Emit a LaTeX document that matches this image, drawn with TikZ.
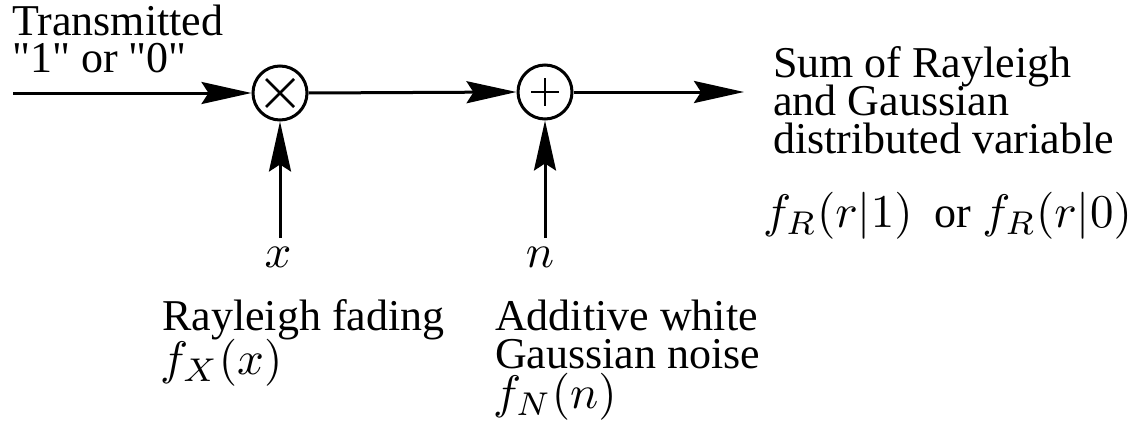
\documentclass[tikz,border=0pt]{standalone}
\usepackage[no-math]{fontspec}
\setmainfont{Liberation Serif}
\font\plainq="Liberation Serif" at 44pt
\newcommand{\sq}{{\plainq\char34}}
\newcommand{\bigmath}[1]{\scalebox{4.7}{\fontsize{10}{12}\selectfont$#1$}}
\usetikzlibrary{arrows.meta}
\begin{document}
\begin{tikzpicture}[x=1pt,y=-1pt,
  txt/.style={anchor=base west,inner sep=0pt,font=\fontsize{44}{38}\selectfont},
  junc/.style={circle,draw,line width=3pt,minimum size=54pt,inner sep=0pt},
  conn/.style={line width=3pt,-{Stealth[length=50pt,width=22pt,inset=7pt]}}]
\useasboundingbox (0,0) rectangle (1139,423);
% junctions
\node[junc] (mul) at (280,93) {};
\node[junc] (add) at (545,92) {};
\draw[line width=2.8pt] ([shift={(-14,-14)}]mul.center) -- ([shift={(14,14)}]mul.center)
  ([shift={(-14,14)}]mul.center) -- ([shift={(14,-14)}]mul.center);
\draw[line width=2.8pt] ([shift={(-14,0)}]add.center) -- ([shift={(14,0)}]add.center)
  ([shift={(0,-14)}]add.center) -- ([shift={(0,14)}]add.center);
% free ends
\coordinate (in) at (13,93);
\coordinate (out) at (744,92);
\coordinate (xs) at (280,238);
\coordinate (ns) at (545,238);
% connectors
\draw[conn] (in) -- (mul.west);
\draw[conn] (mul.east) -- (add.west);
\draw[conn] (add.east) -- (out);
\draw[conn] (xs) -- (mul.south);
\draw[conn] (ns) -- (add.south);
% labels
\node[txt] (t1) at (12,35) {Transmitted};
\node[txt] (t2) at (12,72) {\sq1\sq{} or \sq0\sq};
\node[txt,anchor=base] (xl) at (278,267) {\bigmath{x}};
\node[txt,anchor=base] (nl) at (540,267) {\bigmath{n}};
\node[txt] (r1) at (162,330) {Rayleigh fading};
\node[txt] (r2) at (160,374) {\bigmath{f_X(x)}};
\node[txt] (a1) at (495,330) {Additive white};
\node[txt] (a2) at (495,368) {Gaussian noise};
\node[txt] (a3) at (493,408) {\bigmath{f_N(n)}};
\node[txt] (s1) at (773,77) {Sum of Rayleigh};
\node[txt] (s2) at (773,115) {and Gaussian};
\node[txt] (s3) at (773,153) {distributed variable};
\node[txt] (s4) at (763,227) {\bigmath{f_R(r|1)}\ \ or \bigmath{f_R(r|0)}};
\end{tikzpicture}
\end{document}
